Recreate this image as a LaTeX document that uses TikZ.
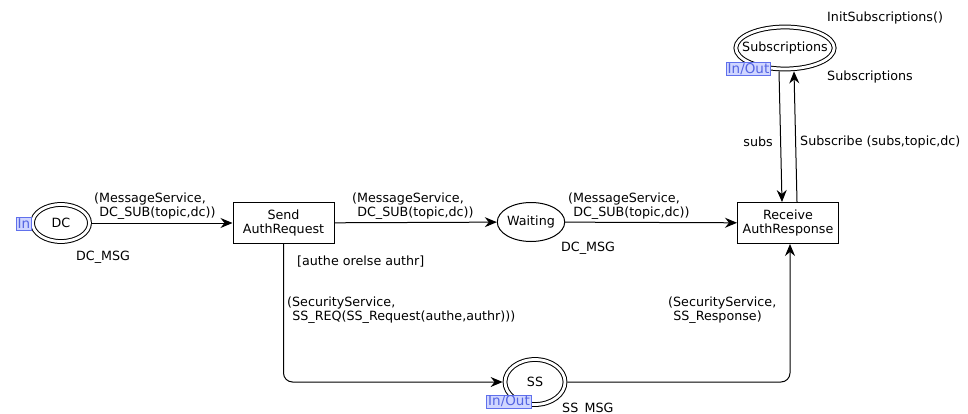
\documentclass[tikz,border=0pt]{standalone}
\usepackage{fontspec}
\setmainfont{DejaVu Sans}
\usetikzlibrary{shapes.geometric,arrows.meta,calc}

\definecolor{tagfill}{RGB}{208,214,255}
\definecolor{tagline}{RGB}{96,112,236}
\definecolor{tagtext}{RGB}{84,100,226}

\tikzset{
  x=1pt, y=-1pt,
  every node/.style={font=\fontsize{12.7}{14}\selectfont, inner sep=0pt},
  place/.style={ellipse, draw, line width=1pt},
  portplace/.style={place, double, double distance=2.8pt, outer sep=2.4pt},
  trans/.style={draw, line width=1pt, minimum width=101pt, minimum height=41pt, align=center},
  arc/.style={draw, line width=1pt, -{Stealth[length=12pt, width=10pt, inset=4pt]}},
  tag/.style={draw=tagline, fill=tagfill, text=tagtext, line width=0.8pt,
              inner xsep=1.5pt, inner ysep=0pt, minimum height=13pt,
              font=\fontsize{13.5}{13.5}\selectfont},
  lbl/.style={align=left, anchor=west},
}

\begin{document}
\begin{tikzpicture}
\useasboundingbox (0,0) rectangle (968,414);
\clip (0,0) rectangle (968,414);

% places
\node[portplace, minimum width=57pt, minimum height=37pt] (dc) at (61,223) {DC};
\node[place, minimum width=61pt, minimum height=39pt] (waiting) at (531,222) {Waiting};
\node[portplace, inner xsep=-8pt, minimum height=42pt] (subs) at (785,48) {Subscriptions};
\node[portplace, minimum width=60pt, minimum height=45pt] (ss) at (535,382) {SS};

% transitions
\node[trans] (send) at (283.5,223) {Send\\AuthRequest};
\node[trans] (recv) at (788,223) {Receive\\AuthResponse};

% port tags
\node[tag] (tagdc) at (24,223.5) {In};
\node[tag] (tagsubs) at (748.5,69) {In/Out};
\node[tag] (tagss) at (509,401.5) {In/Out};

% place types and initial marking
\node[anchor=west] (tdc) at (76,257) {DC\_MSG};
\node[anchor=west] (twait) at (561,248) {DC\_MSG};
\node[anchor=west] (tsubs) at (827,77) {Subscriptions};
\node[anchor=west] (isubs) at (827,18) {InitSubscriptions()};
\node[anchor=west] (tss) at (562,409) {SS\_MSG};

% arcs along the main line
\draw[arc] (dc) -- (send);
\draw[arc] (send) -- (waiting);
\draw[arc] (waiting) -- (recv);

% arcs to and from the subscriptions place
\draw[arc] ([xshift=-6pt]subs.south) -- ([xshift=-6pt]recv.north);
\draw[arc] ([xshift=9pt]recv.north) -- ([xshift=9pt]subs.south);

% arcs through the security service
\draw[arc, rounded corners=9pt] (send.south) -- (send.south |- ss.center) -- (ss);
\draw[arc, rounded corners=9pt] (ss) -- ([xshift=2pt]recv.south |- ss.center) -- ([xshift=2pt]recv.south);

% arc inscriptions
\node[lbl] (l1) at (94,206) {(MessageService,\\\hspace*{0.4em}DC\_SUB(topic,dc))};
\node[lbl] (l2) at (352,206) {(MessageService,\\\hspace*{0.4em}DC\_SUB(topic,dc))};
\node[lbl] (l3) at (568,206) {(MessageService,\\\hspace*{0.4em}DC\_SUB(topic,dc))};
\node[anchor=east] (l4) at (773,142) {subs};
\node[anchor=west] (l5) at (800,142) {Subscribe (subs,topic,dc)};
\node[anchor=west] (guard) at (297,262) {[authe orelse authr]};
\node[lbl] (l6) at (287,310) {(SecurityService,\\\hspace*{0.4em}SS\_REQ(SS\_Request(authe,authr)))};
\node[lbl] (l7) at (668,310) {(SecurityService,\\\hspace*{0.4em}SS\_Response)};
\end{tikzpicture}
\end{document}
